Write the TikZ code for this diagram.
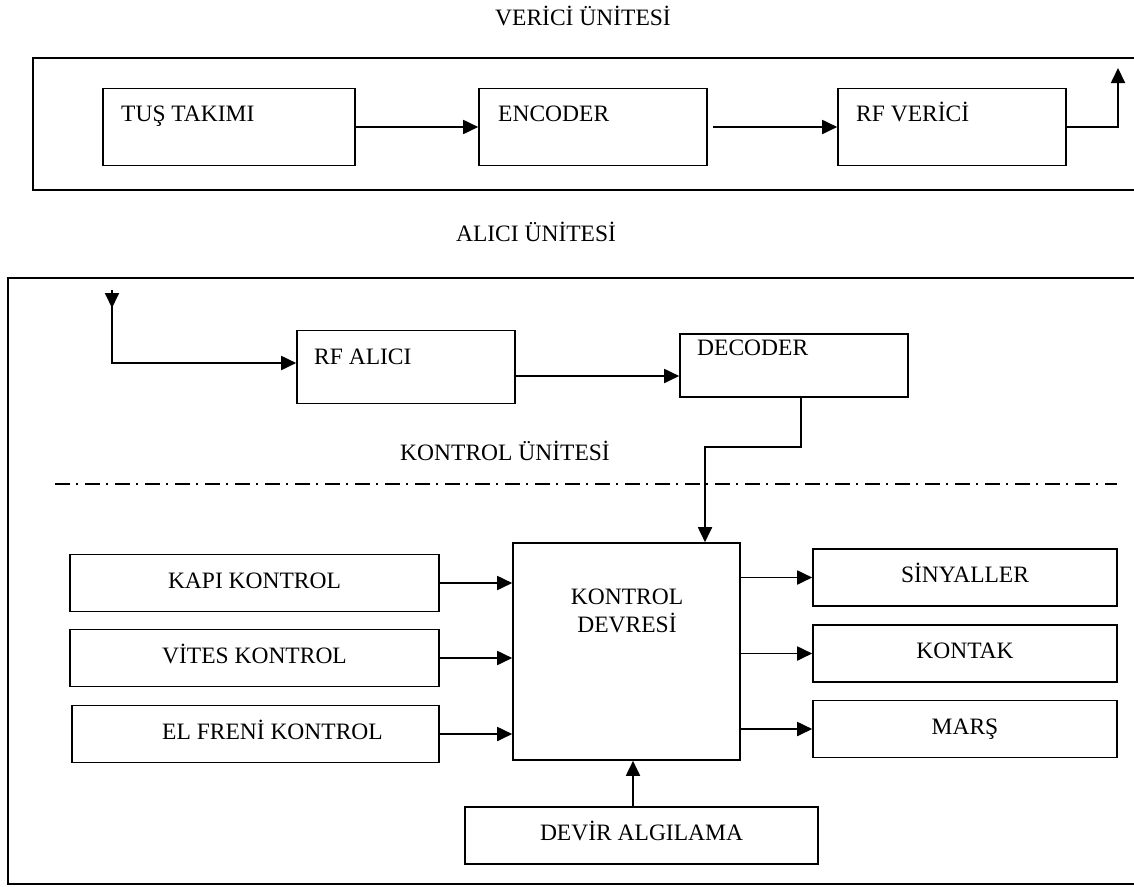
\documentclass[tikz,border=0pt]{standalone}
\usepackage{fontspec}
\setmainfont{Liberation Serif}
\usetikzlibrary{arrows.meta}
\begin{document}
\begin{tikzpicture}[x=1pt,y=-1pt,
  every node/.style={font=\fontsize{23.5}{28}\selectfont},
  box/.style={draw, line width=1.6pt, inner sep=0pt, text height=17pt, text depth=7pt},
  conn/.style={line width=1.8pt, -{Triangle[length=15pt,width=14pt]}},
  frame/.style={line width=1.8pt},
  lbl/.style={inner sep=0pt},
  dashdot/.style={line width=1.3pt, dash pattern=on 15pt off 6pt on 2pt off 7pt}
]
\useasboundingbox (0,0) rectangle (1134,886);

% ---------- VERICI UNITESI ----------
\node[lbl, anchor=base] (tverici) at (583,25) {VERİCİ ÜNİTESİ};
\draw[frame] (1137,58) -- (33,58) -- (33,190) -- (1137,190);

\node[box, minimum width=252pt, minimum height=77pt] (tus) at (229,127) {};
\node[lbl, anchor=base west] (tust) at (121,121) {TUŞ TAKIMI};
\node[box, minimum width=228pt, minimum height=77pt] (enc) at (593,127) {};
\node[lbl, anchor=base west] (enct) at (498,121) {ENCODER};
\node[box, minimum width=228pt, minimum height=77pt] (rfv) at (952,127) {};
\node[lbl, anchor=base west] (rfvt) at (856,121) {RF VERİCİ};
\coordinate (antT) at (1118,68);

\draw[conn] (tus.east) -- (enc.west);
\draw[conn, shorten <=5pt] (enc.east) -- (rfv.west);
\draw[conn] (rfv.east) -| (antT);

% ---------- ALICI UNITESI ----------
\node[lbl, anchor=base] (talici) at (536,241) {ALICI ÜNİTESİ};
\draw[frame] (1137,278) -- (8,278) -- (8,884) -- (1137,884);

\node[box, minimum width=218pt, minimum height=73pt] (rfa) at (406,367) {};
\node[lbl, anchor=base west] (rfat) at (314,364) {RF ALICI};
\node[box, minimum width=228pt, minimum height=63pt] (dec) at (794,365.5) {};
\node[lbl, anchor=base west] (dect) at (697,355) {DECODER};

\coordinate (antB) at (112,290);
\coordinate (antTip) at (112,308);
\coordinate (antC) at (112,363);
\draw[conn] (antB) -- (antTip);
\draw[conn] (antB) -- (antC) -- (rfa.west |- antC);
\draw[conn] ([yshift=-9pt]rfa.east) -- ([yshift=-9pt]rfa.east -| dec.west);

% ---------- KONTROL UNITESI ----------
\node[lbl, anchor=base] (tkontrol) at (505,460) {KONTROL ÜNİTESİ};
\coordinate (dl) at (55,484);
\coordinate (dr) at (1117,484);
\draw[dashdot] (dl) -- (dr);

\node[box, minimum width=227pt, minimum height=217pt] (kd) at (626.5,651.5) {};
\node[lbl, align=center, anchor=north] (kdt) at (627,589) {KONTROL\\DEVRESİ};

\coordinate (decb) at ([xshift=7pt]dec.south);
\coordinate (dk) at (705,447);
\draw[conn] (decb) |- (dk) -- (dk |- kd.north);

\node[box, minimum width=369pt, minimum height=57pt] (kapi) at (254.5,583) {KAPI KONTROL};
\node[box, minimum width=369pt, minimum height=57pt] (vites) at (254.5,658) {VİTES KONTROL};
\node[box, minimum width=367pt, minimum height=57pt] (elf) at (255.5,734) {\hspace*{34pt}EL FRENİ KONTROL};

\draw[conn] (kapi.east) -- (kapi.east -| kd.west);
\draw[conn] (vites.east) -- (vites.east -| kd.west);
\draw[conn] (elf.east) -- (elf.east -| kd.west);

\node[box, minimum width=304pt, minimum height=57pt] (sin) at (965,577.5) {SİNYALLER};
\node[box, minimum width=304pt, minimum height=57pt] (kon) at (965,653.5) {KONTAK};
\node[box, minimum width=304pt, minimum height=57pt] (mars) at (965,729) {MARŞ};

\draw[conn] (kd.east |- sin.west) -- (sin.west);
\draw[conn] (kd.east |- kon.west) -- (kon.west);
\draw[conn] (kd.east |- mars.west) -- (mars.west);

\node[box, minimum width=353pt, minimum height=57pt] (dev) at (641.5,835.5) {DEVİR ALGILAMA};
\coordinate (devtop) at ([xshift=-8.5pt]dev.north);
\draw[conn] (devtop) -- (devtop |- kd.south);
\end{tikzpicture}
\end{document}
